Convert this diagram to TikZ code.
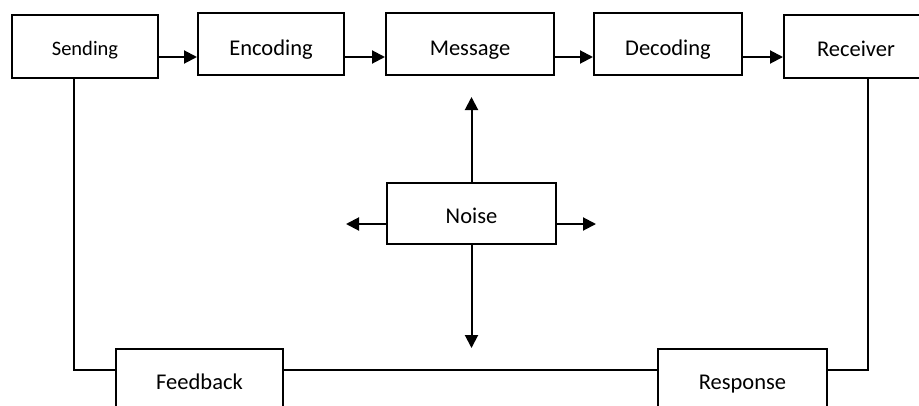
\documentclass[tikz,border=0pt]{standalone}
\usepackage{fontspec}
\setmainfont{Carlito}
\usetikzlibrary{arrows.meta}
\begin{document}
\begin{tikzpicture}[x=1pt,y=-1pt,
  box/.style={draw, line width=2pt, fill=white, inner sep=0pt, text=black,
    text depth=0pt, font=\fontsize{22.5}{27}\selectfont},
  flow/.style={line width=2pt, -{Triangle[length=13pt,width=13pt]}},
  loopline/.style={line width=1.2pt}]
\clip (0,0) rectangle (919,405);
\fill[white] (0,0) rectangle (919,405);
\node[box, minimum width=146pt, minimum height=63pt, text height=17pt, font=\fontsize{20.5}{24}\selectfont] (send) at (85,46.5) {Sending};
\node[box, minimum width=146pt, minimum height=62pt, text height=22pt] (enc) at (271,44) {Encoding};
\node[box, minimum width=168pt, minimum height=62pt, text height=22pt] (msg) at (470,44) {Message};
\node[box, minimum width=148pt, minimum height=62pt, text height=22pt] (dec) at (668,44) {Decoding};
\node[box, minimum width=144pt, minimum height=63pt, text height=19pt] (recv) at (856,46.5) {Receiver};
\node[box, minimum width=169pt, minimum height=61pt, text height=19pt] (noise) at (471.5,213.5) {Noise};
\node[box, minimum width=167pt, minimum height=66pt, text height=14pt] (fb) at (199.5,382) {Feedback};
\node[box, minimum width=169pt, minimum height=66pt, text height=14pt] (resp) at (742.5,382) {Response};
\coordinate (ya) at (0,57);
\coordinate (nup) at (472,97);
\coordinate (ndown) at (472,348);
\coordinate (nleft) at (346,224);
\coordinate (nright) at (596,224);
\coordinate (sl) at (74,370);
\coordinate (rl) at (868,370);
\draw[flow] (send.east |- ya) -- (enc.west |- ya);
\draw[flow] (enc.east |- ya) -- (msg.west |- ya);
\draw[flow] (msg.east |- ya) -- (dec.west |- ya);
\draw[flow] (dec.east |- ya) -- (recv.west |- ya);
\draw[flow] (noise.north) -- (noise.north |- nup);
\draw[flow] (noise.south) -- (noise.south |- ndown);
\draw[flow] (noise.west |- nleft) -- (nleft);
\draw[flow] (noise.east |- nright) -- (nright);
\draw[loopline] (send.south -| sl) -- (sl) -- (fb.west |- sl);
\draw[loopline] (fb.east |- sl) -- (resp.west |- sl);
\draw[loopline] (resp.east |- rl) -- (rl) -- (recv.south -| rl);
\end{tikzpicture}
\end{document}
